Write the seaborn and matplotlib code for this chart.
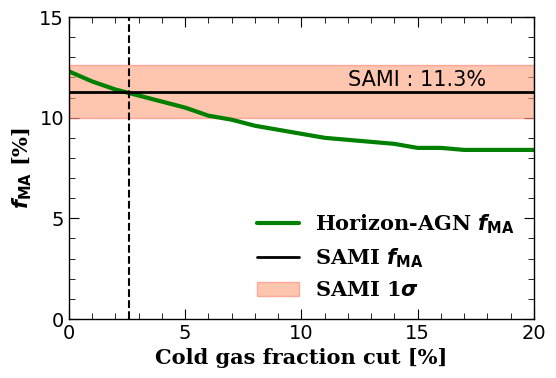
import numpy as np
import pandas as pd
import seaborn as sns
import matplotlib.pyplot as plt
from matplotlib.ticker import MultipleLocator
from matplotlib.lines import Line2D
from matplotlib.patches import Patch

# data
gas_cut = [0, 1, 2, 3, 4, 5, 6, 7, 8, 9, 10, 11, 12, 13, 14, 15, 16, 17, 18, 19, 20]
f_ma_hagn = [12.3, 11.8, 11.4, 11.1, 10.8, 10.5, 10.1, 9.9, 9.6, 9.4, 9.2, 9.0,
             8.9, 8.8, 8.7, 8.5, 8.5, 8.4, 8.4, 8.4, 8.4]
sami_val = 11.3
sami_lo, sami_hi = 10.0, 12.6
cut_line = 2.6

df = pd.DataFrame({'cut': gas_cut, 'fma': f_ma_hagn})

sns.set_style('ticks')
plt.rcParams['mathtext.fontset'] = 'dejavusans'
# seaborn greys the text, the original is plain black
plt.rcParams['text.color'] = 'black'
plt.rcParams['axes.labelcolor'] = 'black'
plt.rcParams['xtick.color'] = 'black'
plt.rcParams['ytick.color'] = 'black'

fig = plt.figure(figsize=(5.56, 3.78), dpi=100)
ax = fig.add_axes([0.124, 0.156, 0.836, 0.799])

ax.axhspan(sami_lo, sami_hi, facecolor='lightsalmon', edgecolor='salmon', alpha=0.6, lw=1)
sns.lineplot(data=df, x='cut', y='fma', ax=ax, color='green', lw=3)
ax.axhline(sami_val, color='black', lw=2)
ax.axvline(cut_line, color='black', ls='--', lw=1.5)
ax.text(12, sami_val + 0.25, 'SAMI : 11.3%', fontsize=15)

ax.set_xlim(0, 20)
ax.set_ylim(0, 15)
ax.xaxis.set_major_locator(MultipleLocator(5))
ax.xaxis.set_minor_locator(MultipleLocator(1))
ax.yaxis.set_major_locator(MultipleLocator(5))
ax.yaxis.set_minor_locator(MultipleLocator(1))
ax.tick_params(which='both', direction='in', top=True, right=True, labelsize=14)
ax.tick_params(which='major', length=7)
ax.tick_params(which='minor', length=4)
for s in ax.spines.values():
    s.set_linewidth(1)
    s.set_color('black')

ax.set_xlabel('Cold gas fraction cut [%]', fontsize=15, fontweight='bold', family='DejaVu Serif')
ax.set_ylabel(r'$\boldsymbol{f}_{\mathbf{MA}}$ [%]', fontsize=15, fontweight='bold', family='DejaVu Serif')

handles = [Line2D([], [], color='green', lw=3),
           Line2D([], [], color='black', lw=2),
           Patch(facecolor='lightsalmon', edgecolor='salmon', alpha=0.6)]
labels = [r'Horizon-AGN $\boldsymbol{f}_{\mathbf{MA}}$',
          r'SAMI $\boldsymbol{f}_{\mathbf{MA}}$',
          r'SAMI 1$\boldsymbol{\sigma}$']
ax.legend(handles, labels, loc='lower right', frameon=False,
          prop={'family': 'DejaVu Serif', 'weight': 'bold', 'size': 15})

fig.savefig('out.png', dpi=100)
